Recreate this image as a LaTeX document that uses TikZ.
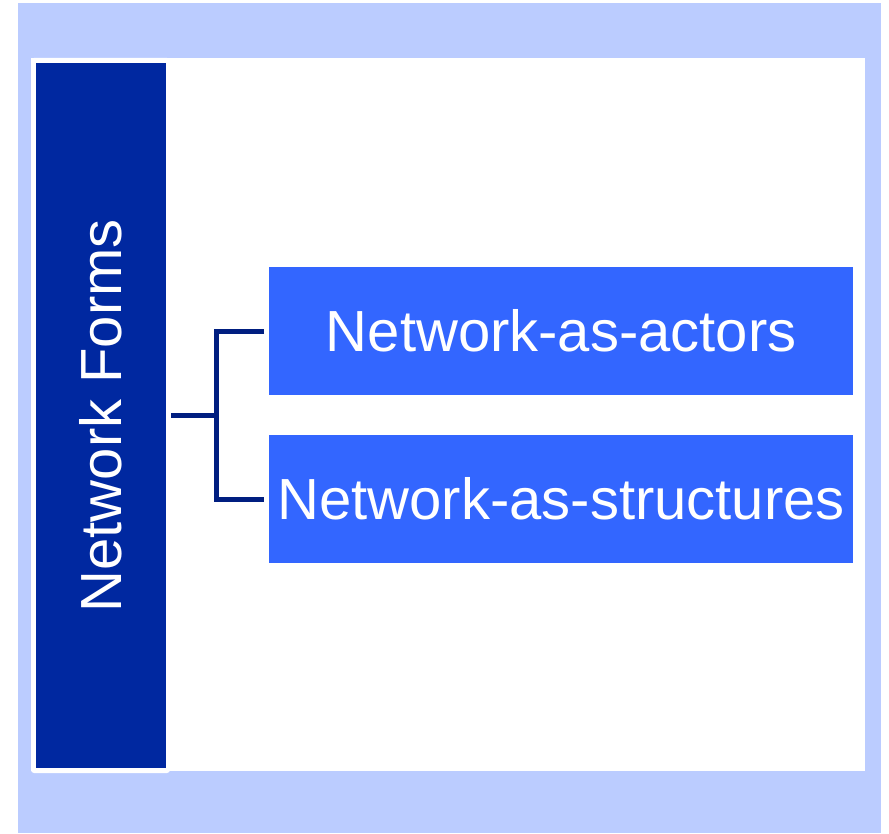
\documentclass[tikz,border=0pt]{standalone}
\usepackage{fontspec}
\setmainfont{Liberation Sans}
\definecolor{bgblue}{HTML}{BBCCFF}
\definecolor{darkbox}{HTML}{0028A0}
\definecolor{brightbox}{HTML}{3366FF}
\definecolor{connblue}{HTML}{001E80}
\tikzset{
  itembox/.style={fill=brightbox, text=white, inner sep=0pt, minimum width=584pt, minimum height=128pt, anchor=north west, font=\fontsize{58}{64}\selectfont},
  conn/.style={draw=connblue, line width=5pt},
}
\begin{document}
\begin{tikzpicture}[x=1pt,y=1pt]
\useasboundingbox (0,0) rectangle (889,833);
\fill[white] (0,0) rectangle (889,833);
\fill[bgblue] (18,0) rectangle (881,830);
\fill[white] (31,62) rectangle (865,775);
\fill[white, rounded corners=3pt] (31,60) rectangle (170,775);
\node[fill=darkbox, inner sep=0pt, minimum width=130pt, minimum height=705pt, anchor=north west] (dark) at (36,770) {};
\node[rotate=90, text=white, font=\fontsize{58}{64}\selectfont] (title) at (dark.center) {Network Forms};
\node[itembox] (b1) at (269,566) {Network-as-actors};
\node[itembox] (b2) at (269,398) {Network-as-structures};
\draw[conn] ([xshift=5pt]dark.east) -- ++(45,0) coordinate (j);
\draw[conn] ([xshift=-5pt]b1.west) -| (j) |- ([xshift=-5pt]b2.west);
\end{tikzpicture}
\end{document}
